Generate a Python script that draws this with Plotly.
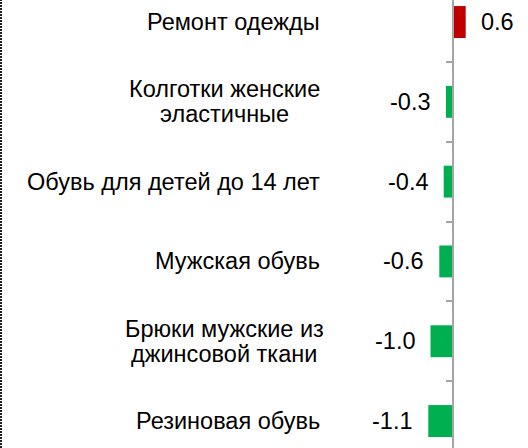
import plotly.graph_objects as go

categories = ["Ремонт одежды", "Колготки женские эластичные", "Обувь для детей до 14 лет",
              "Мужская обувь", "Брюки мужские из джинсовой ткани", "Резиновая обувь"]
label_lines = [["Ремонт одежды"], ["Колготки женские", "эластичные"], ["Обувь для детей до 14 лет"],
               ["Мужская обувь"], ["Брюки мужские из", "джинсовой ткани"], ["Резиновая обувь"]]
values = [0.6, -0.3, -0.4, -0.6, -1.0, -1.1]
value_labels = ["0.6", "-0.3", "-0.4", "-0.6", "-1.0", "-1.1"]

colors = ["#C00000" if v > 0 else "#00B050" for v in values]
FONT = "Liberation Sans, Arial, sans-serif"
FS = 23.5

fig = go.Figure(go.Bar(
    x=values, y=categories, orientation="h", width=0.4,
    marker=dict(color=colors, line=dict(width=0)),
    hoverinfo="skip",
))

for c, v, t, lines in zip(categories, values, value_labels, label_lines):
    fig.add_annotation(x=v, y=c, xref="x", yref="y", text=t, showarrow=False,
                       xanchor="left" if v > 0 else "right",
                       xshift=13 if v > 0 else -13,
                       font=dict(family=FONT, size=FS, color="#000000"))
    n = len(lines)
    for i, ln in enumerate(lines):
        fig.add_annotation(x=322 / 528, y=c, xref="paper", yref="y", text=ln, showarrow=False,
                           xanchor="right" if n == 1 else "center",
                           xshift=0 if n == 1 else -98,
                           yshift=((n - 1) / 2 - i) * 25,
                           font=dict(family=FONT, size=FS, color="#000000"))

fig.add_shape(type="line", xref="paper", yref="paper", x0=1 / 528, x1=1 / 528, y0=0, y1=1,
              line=dict(color="#222222", width=2, dash="2px,1px"))

fig.update_layout(
    width=528, height=448,
    margin=dict(l=0, r=0, t=0, b=0),
    paper_bgcolor="white", plot_bgcolor="white",
    showlegend=False,
    xaxis=dict(range=[-452.5 / 22, 75.5 / 22], showgrid=False, zeroline=False,
               showticklabels=False, showline=False, ticks=""),
    yaxis=dict(type="category", range=[5.338, -0.276], showgrid=False, zeroline=False,
               showticklabels=False, showline=True, linecolor="#A6A6A6", linewidth=2,
               ticks="outside", ticklen=6, tickwidth=2, tickcolor="#A6A6A6",
               tickson="boundaries", anchor="free", position=452.5 / 528),
)

fig.write_html("out.html", config={"displayModeBar": False},
               post_script="document.body.style.margin='0';")
